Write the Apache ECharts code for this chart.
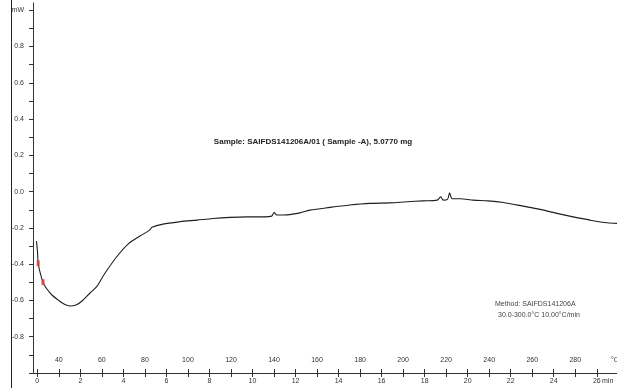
<!DOCTYPE html>
<html>
<head>
<meta charset="utf-8">
<script src="https://cdn.jsdelivr.net/npm/echarts@6/dist/echarts.min.js"></script>
<style>
  html, body { margin: 0; padding: 0; background: #fff; }
  #chart { width: 617px; height: 388px; }
</style>
</head>
<body>
<div id="chart"></div>
<script>
// DSC heat-flow trace: time (min) vs heat flow (mW)
const timeMin = [
  -0.04, 0.01, 0.04, 0.15, 0.265, 0.42, 0.68, 0.96, 1.24, 1.52,
  1.80, 2.08, 2.45, 2.76, 3.15, 3.69, 4.22, 4.77, 5.10, 5.24, 5.33,
  5.84, 6.63, 7.42, 8.17, 8.96, 9.74, 10.49, 10.89, 11.00, 11.13,
  11.61, 12.21, 12.67, 13.60, 14.53, 15.46, 16.39, 17.18, 17.93, 18.58,
  18.75, 18.87, 19.07, 19.16, 19.28, 19.65, 20.26, 20.95, 21.66, 22.57,
  23.36, 24.15, 24.90, 25.69, 26.48, 26.94
];
const heatFlow = [
  -0.273, -0.333, -0.395, -0.455, -0.499, -0.533, -0.570, -0.597, -0.620, -0.631,
  -0.625, -0.603, -0.559, -0.524, -0.449, -0.359, -0.289, -0.245, -0.222, -0.210, -0.196,
  -0.179, -0.166, -0.157, -0.148, -0.142, -0.139, -0.139, -0.135, -0.116, -0.129,
  -0.128, -0.117, -0.102, -0.087, -0.074, -0.065, -0.062, -0.056, -0.051, -0.047,
  -0.029, -0.047, -0.041, -0.007, -0.039, -0.039, -0.047, -0.051, -0.060, -0.080,
  -0.098, -0.120, -0.139, -0.157, -0.172, -0.175
];

// evaluation limit markers
const markerTime = [0.04, 0.265];
const markerFlow = [-0.395, -0.499];

// axis ticks and labels
const minuteTicks = [0,1,2,3,4,5,6,7,8,9,10,11,12,13,14,15,16,17,18,19,20,21,22,23,24,25,26];
const minuteLabels = [0,2,4,6,8,10,12,14,16,18,20,22,24,26];
const tempLabels = [40,60,80,100,120,140,160,180,200,220,240,260,280];
const flowTicks = [-1.0,-0.9,-0.8,-0.7,-0.6,-0.5,-0.4,-0.3,-0.2,-0.1,0.0,0.1,0.2,0.3,0.4,0.5,0.6,0.7,0.8,0.9,1.0];
const flowLabels = [-0.8,-0.6,-0.4,-0.2,0.0,0.2,0.4,0.6,0.8,1.0];

// method: 30.0 °C start, 10.00 °C/min
const startTemp = 30;
const rate = 10;
const tMin = -0.2, tMax = 26.94;

const FONT = "'Liberation Sans', Arial, sans-serif";
const AX = '#333';

const chart = echarts.init(document.getElementById('chart'), null, { renderer: 'canvas' });

const points = timeMin.map((t, i) => [t, heatFlow[i]]);
const marks = markerTime.map((t, i) => [t, markerFlow[i]]);
const tempTicks = minuteTicks.map(t => startTemp + rate * t);

chart.setOption({
  animation: false,
  backgroundColor: '#fff',
  grid: { left: 33, right: 0, top: 3, bottom: 15 },
  xAxis: [
    {
      type: 'value', position: 'bottom', min: tMin, max: tMax,
      axisLine: { show: true, onZero: false, lineStyle: { color: AX, width: 1 } },
      axisTick: { show: true, inside: false, length: 4, customValues: minuteTicks, lineStyle: { color: AX } },
      axisLabel: { show: true, margin: 5, customValues: minuteLabels, fontSize: 7, fontFamily: FONT, color: '#333' },
      splitLine: { show: false }
    },
    {
      type: 'value', position: 'bottom',
      min: startTemp + rate * tMin, max: startTemp + rate * tMax,
      axisLine: { show: true, onZero: false, lineStyle: { color: AX, width: 1 } },
      axisTick: { show: true, inside: true, length: 4, customValues: tempTicks, lineStyle: { color: AX } },
      axisLabel: { show: true, inside: true, margin: 9, customValues: tempLabels, fontSize: 7, fontFamily: FONT, color: '#333' },
      splitLine: { show: false }
    }
  ],
  yAxis: {
    type: 'value', min: -1.0, max: 1.04,
    axisLine: { show: true, onZero: false, lineStyle: { color: AX, width: 1 } },
    axisTick: { show: true, length: 4, customValues: flowTicks, lineStyle: { color: AX } },
    axisLabel: {
      show: true, margin: 9, customValues: flowLabels, fontSize: 7, fontFamily: FONT, color: '#333',
      formatter: v => (Math.abs(v - 1) < 1e-6 ? 'mW' : v.toFixed(1))
    },
    splitLine: { show: false }
  },
  series: [
    {
      type: 'line', xAxisIndex: 0, data: points, showSymbol: false,
      smooth: 0.3,
      lineStyle: { color: '#1e1e1e', width: 1.1 }, z: 2
    },
    {
      type: 'scatter', xAxisIndex: 0, data: marks, symbol: 'rect', symbolSize: [3, 6],
      itemStyle: { color: '#d84040', opacity: 0.85 }, z: 3
    }
  ],
  graphic: [
    { type: 'line', shape: { x1: 11.5, y1: 0, x2: 11.5, y2: 388 }, style: { stroke: '#222', lineWidth: 1 } },
    {
      type: 'text', x: 313, y: 142,
      style: { text: 'Sample: SAIFDS141206A/01 ( Sample -A), 5.0770 mg', font: 'bold 8px ' + FONT,
               fill: '#222', textAlign: 'center', textVerticalAlign: 'middle' }
    },
    {
      type: 'text', x: 495, y: 304,
      style: { text: 'Method: SAIFDS141206A', font: '7px ' + FONT, fill: '#444', textVerticalAlign: 'middle' }
    },
    {
      type: 'text', x: 498, y: 315,
      style: { text: '30.0-300.0°C 10.00°C/min', font: '7px ' + FONT, fill: '#444', textVerticalAlign: 'middle' }
    },
    {
      type: 'text', x: 602, y: 381,
      style: { text: 'min', font: '7px ' + FONT, fill: '#333', textVerticalAlign: 'middle' }
    },
    {
      type: 'text', x: 611, y: 360,
      style: { text: '°C', font: '7px ' + FONT, fill: '#333', textVerticalAlign: 'middle' }
    }
  ]
});
</script>
</body>
</html>
